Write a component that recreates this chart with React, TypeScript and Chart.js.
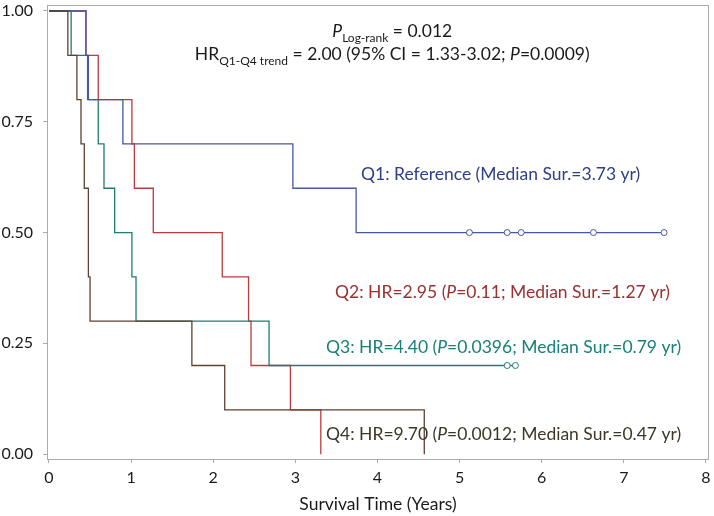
import React, { useEffect, useRef } from 'react';
import { Chart, registerables } from 'chart.js';
Chart.register(...registerables);

// ---- axis ticks ----
const xTicks = [0, 1, 2, 3, 4, 5, 6, 7, 8];
const yTicks = [0, 0.25, 0.5, 0.75, 1];

// ---- Kaplan–Meier step data (time in years, survival probability) ----
const q1Times = [0, 0.45, 0.48, 0.9, 2.97, 3.74, 7.49];
const q1Surv = [1, 0.9, 0.8, 0.7, 0.6, 0.5, 0.5];
const q1CensorTimes = [5.12, 5.58, 5.75, 6.63, 7.49];
const q1CensorSurv = [0.5, 0.5, 0.5, 0.5, 0.5];

const q2Times = [0, 0.45, 0.6, 1.01, 1.04, 1.27, 2.11, 2.43, 2.46, 2.94, 3.31];
const q2Surv = [1, 0.9, 0.8, 0.7, 0.6, 0.5, 0.4, 0.3, 0.2, 0.1, 0];

const q3Times = [0, 0.27, 0.47, 0.6, 0.67, 0.8, 1.01, 1.06, 2.68, 5.68];
const q3Surv = [1, 0.9, 0.8, 0.7, 0.6, 0.5, 0.4, 0.3, 0.2, 0.2];
const q3CensorTimes = [5.58, 5.68];
const q3CensorSurv = [0.2, 0.2];

const q4Times = [0, 0.23, 0.34, 0.39, 0.43, 0.48, 0.5, 1.74, 2.14, 4.57];
const q4Surv = [1, 0.9, 0.8, 0.7, 0.6, 0.4, 0.3, 0.2, 0.1, 0];

// ---- colours ----
const q1Line = '#4657a6';
const q2Line = '#b73c3f';
const q3Line = '#1f7c73';
const q4Line = '#5e4232';
const q1Text = '#2f4087';
const q2Text = '#9c2f2f';
const q3Text = '#17817a';
const q4Text = '#3e3727';
const textDark = '#1a1a1a';
const frameColor = '#a9abad';

const FONT = 'Lato';
const LABEL_SIZE = 17.5;

type Seg = { t: string; i?: boolean; s?: boolean };

// annotations, anchored in data coordinates
const headerLine1: Seg[] = [{ t: 'P', i: true }, { t: 'Log-rank', s: true }, { t: ' = 0.012' }];
const headerLine2: Seg[] = [
  { t: 'HR' },
  { t: 'Q1-Q4 trend', s: true },
  { t: ' = 2.00 (95% CI = 1.33-3.02; ' },
  { t: 'P', i: true },
  { t: '=0.0009)' },
];
const q1Label: Seg[] = [{ t: 'Q1: Reference (Median Sur.=3.73 yr)' }];
const q2Label: Seg[] = [{ t: 'Q2: HR=2.95 (' }, { t: 'P', i: true }, { t: '=0.11; Median Sur.=1.27 yr)' }];
const q3Label: Seg[] = [{ t: 'Q3: HR=4.40 (' }, { t: 'P', i: true }, { t: '=0.0396; Median Sur.=0.79 yr)' }];
const q4Label: Seg[] = [{ t: 'Q4: HR=9.70 (' }, { t: 'P', i: true }, { t: '=0.0012; Median Sur.=0.47 yr)' }];

const annotations = [
  { segs: headerLine1, x: 4.18, y: 0.9414, align: 'center', color: textDark },
  { segs: headerLine2, x: 4.18, y: 0.8896, align: 'center', color: textDark },
  { segs: q1Label, x: 3.8, y: 0.6194, align: 'left', color: q1Text },
  { segs: q2Label, x: 3.484, y: 0.3514, align: 'left', color: q2Text },
  { segs: q3Label, x: 3.374, y: 0.2275, align: 'left', color: q3Text },
  { segs: q4Label, x: 3.374, y: 0.0315, align: 'left', color: q4Text },
];

const toXY = (xs: number[], ys: number[]) => xs.map((x, i) => ({ x, y: ys[i] }));

function drawRich(ctx: CanvasRenderingContext2D, segs: Seg[], x: number, y: number, align: string, size: number, color: string) {
  const subSize = Math.round(size * 0.7);
  let total = 0;
  const parts = segs.map((s) => {
    const font = `${s.i ? 'italic ' : ''}${s.s ? subSize : size}px ${FONT}`;
    ctx.font = font;
    const w = ctx.measureText(s.t).width;
    total += w;
    return { font, w, s };
  });
  let cx = align === 'center' ? x - total / 2 : x;
  ctx.fillStyle = color;
  ctx.textAlign = 'left';
  ctx.textBaseline = 'alphabetic';
  for (const p of parts) {
    ctx.font = p.font;
    ctx.fillText(p.s.t, cx, y + (p.s.s ? size * 0.27 : 0));
    cx += p.w;
  }
}

const framePlugin = {
  id: 'frame',
  beforeDatasetsDraw(chart: any) {
    const { ctx, chartArea } = chart;
    ctx.save();
    ctx.strokeStyle = frameColor;
    ctx.lineWidth = 1;
    ctx.strokeRect(chartArea.left + 0.5, chartArea.top + 0.5, chartArea.right - chartArea.left - 1, chartArea.bottom - chartArea.top);
    ctx.restore();
  },
};

const textPlugin = {
  id: 'kmText',
  afterDatasetsDraw(chart: any) {
    const { ctx } = chart;
    const xs = chart.scales.x;
    const ys = chart.scales.y;
    ctx.save();
    for (const a of annotations) {
      drawRich(ctx, a.segs, xs.getPixelForValue(a.x), ys.getPixelForValue(a.y), a.align, LABEL_SIZE, a.color);
    }
    ctx.restore();
  },
};

export default function App() {
  const ref = useRef<HTMLCanvasElement | null>(null);
  useEffect(() => {
    let chart: Chart | null = null;
    let cancelled = false;
    const make = () => {
      if (cancelled || !ref.current) return;
      const curve = (label: string, xs: number[], ys: number[], color: string, order: number) => ({
        label,
        data: toXY(xs, ys),
        borderColor: color,
        backgroundColor: color,
        borderWidth: 1.3,
        stepped: 'before' as const,
        pointRadius: 0,
        fill: false,
        order,
      });
      const censor = (label: string, xs: number[], ys: number[], color: string) => ({
        label,
        data: toXY(xs, ys),
        showLine: false,
        borderColor: color,
        backgroundColor: '#ffffff',
        pointRadius: 3,
        pointBorderWidth: 1,
        pointStyle: 'circle',
        order: 0,
      });
      chart = new Chart(ref.current, {
        type: 'line',
        data: {
          datasets: [
            curve('Q2', q2Times, q2Surv, q2Line, 4),
            curve('Q3', q3Times, q3Surv, q3Line, 3),
            curve('Q1', q1Times, q1Surv, q1Line, 2),
            curve('Q4', q4Times, q4Surv, q4Line, 1),
            censor('Q1 censored', q1CensorTimes, q1CensorSurv, q1Line),
            censor('Q3 censored', q3CensorTimes, q3CensorSurv, q3Line),
          ] as any,
        },
        options: {
          responsive: false,
          animation: false,
          devicePixelRatio: 1,
          layout: { padding: { left: 0, top: 3, right: 5, bottom: 0 } },
          plugins: { legend: { display: false }, tooltip: { enabled: false } },
          scales: {
            x: {
              type: 'linear',
              min: -0.024,
              max: 8.037,
              afterBuildTicks: (s: any) => {
                s.ticks = xTicks.map((v) => ({ value: v }));
              },
              afterFit: (s: any) => {
                s.height = 57;
                s.paddingLeft = 0;
                s.paddingRight = 0;
              },
              grid: { display: true, drawOnChartArea: false, drawTicks: true, tickLength: 4, color: frameColor },
              border: { display: false },
              ticks: {
                autoSkip: false,
                maxRotation: 0,
                padding: 5,
                color: textDark,
                font: { family: FONT, size: 16 },
                callback: (v: any) => String(v),
              },
              title: {
                display: true,
                text: 'Survival Time (Years)',
                color: textDark,
                font: { family: FONT, size: 17.5 },
                padding: { top: 0, bottom: 1 },
              },
            },
            y: {
              type: 'linear',
              min: -0.011,
              max: 1.0135,
              afterBuildTicks: (s: any) => {
                s.ticks = yTicks.map((v) => ({ value: v }));
              },
              afterFit: (s: any) => {
                s.width = 47;
                s.paddingTop = 0;
                s.paddingBottom = 0;
              },
              grid: { display: true, drawOnChartArea: false, drawTicks: true, tickLength: 4, color: frameColor },
              border: { display: false },
              ticks: {
                autoSkip: false,
                padding: 10,
                color: textDark,
                font: { family: FONT, size: 16 },
                callback: (v: any) => Number(v).toFixed(2),
              },
            },
          },
        },
        plugins: [framePlugin, textPlugin],
      } as any);
    };
    const fontsReady = (document as any).fonts
      ? Promise.all([
          (document as any).fonts.load(`16px ${FONT}`),
          (document as any).fonts.load(`italic 16px ${FONT}`),
        ]).catch(() => null)
      : Promise.resolve(null);
    fontsReady.then(make);
    return () => {
      cancelled = true;
      if (chart) chart.destroy();
    };
  }, []);
  return (
    <div style={{ position: 'fixed', left: 0, top: 0, width: 714, height: 516, background: '#ffffff' }}>
      <canvas ref={ref} width={714} height={516} style={{ display: 'block' }} />
    </div>
  );
}
